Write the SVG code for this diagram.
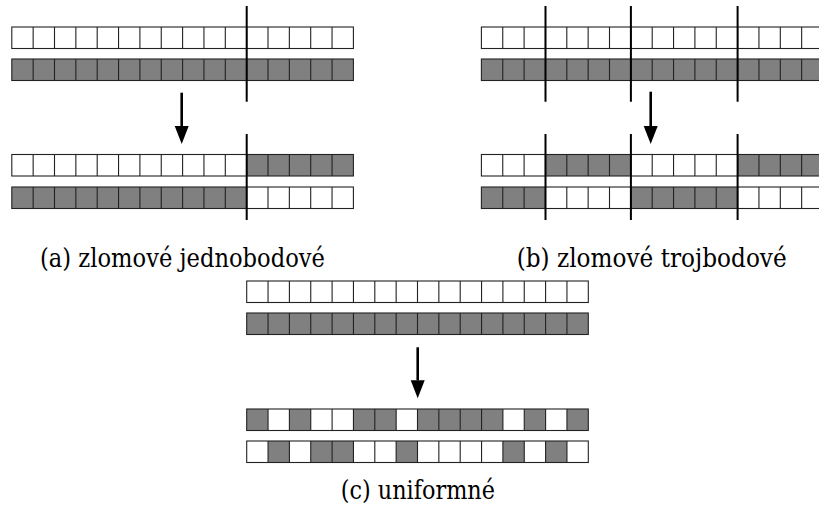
<svg xmlns="http://www.w3.org/2000/svg" xmlns:xlink="http://www.w3.org/1999/xlink" width="819" height="508" viewBox="0 0 819 508">
<style>
.bg{fill:#fff;stroke:none}
.g{fill:#808080;stroke:none}
.div{fill:none;stroke:#222;stroke-width:1.1}
.out{fill:none;stroke:#222;stroke-width:1.1}
.cut{stroke:#000;stroke-width:2;fill:none}
.arr{stroke:#000;stroke-width:2.6;fill:none}
.lbl{font-family:'DejaVu Serif',serif;font-size:25.5px;fill:#000}
</style>
<defs>
<path id="div" class="div" d="M21.35 0V21.5M42.7 0V21.5M64.05 0V21.5M85.4 0V21.5M106.75 0V21.5M128.1 0V21.5M149.45 0V21.5M170.8 0V21.5M192.15 0V21.5M213.5 0V21.5M234.85 0V21.5M256.2 0V21.5M277.55 0V21.5M298.9 0V21.5M320.25 0V21.5"/>
<marker id="ah" markerUnits="userSpaceOnUse" markerWidth="20" markerHeight="16" refX="0" refY="7" orient="auto" viewBox="0 0 20 14">
<path d="M0 0L18 7L0 14z" fill="#000"/>
</marker>
</defs>

<g id="a-parent1" transform="translate(11.8,27)">
<rect class="bg" width="341.6" height="21.5"/>
<use xlink:href="#div" href="#div"/>
<rect class="out" width="341.6" height="21.5"/>
</g>
<g id="a-parent2" transform="translate(11.8,59)">
<rect class="g" width="341.6" height="21.5"/>
<use xlink:href="#div" href="#div"/>
<rect class="out" width="341.6" height="21.5"/>
</g>
<g id="a-child1" transform="translate(11.8,154.5)">
<rect class="bg" width="341.6" height="21.5"/>
<rect class="g" x="234.85" width="106.75" height="21.5"/>
<use xlink:href="#div" href="#div"/>
<rect class="out" width="341.6" height="21.5"/>
</g>
<g id="a-child2" transform="translate(11.8,187)">
<rect class="bg" width="341.6" height="21.5"/>
<rect class="g" width="234.85" height="21.5"/>
<use xlink:href="#div" href="#div"/>
<rect class="out" width="341.6" height="21.5"/>
</g>

<g id="b-parent1" transform="translate(481.4,27)">
<rect class="bg" width="341.6" height="21.5"/>
<use xlink:href="#div" href="#div"/>
<rect class="out" width="341.6" height="21.5"/>
</g>
<g id="b-parent2" transform="translate(481.4,59)">
<rect class="g" width="341.6" height="21.5"/>
<use xlink:href="#div" href="#div"/>
<rect class="out" width="341.6" height="21.5"/>
</g>
<g id="b-child1" transform="translate(481.4,154.5)">
<rect class="bg" width="341.6" height="21.5"/>
<rect class="g" x="64.05" width="85.4" height="21.5"/>
<rect class="g" x="256.2" width="85.4" height="21.5"/>
<use xlink:href="#div" href="#div"/>
<rect class="out" width="341.6" height="21.5"/>
</g>
<g id="b-child2" transform="translate(481.4,187)">
<rect class="bg" width="341.6" height="21.5"/>
<rect class="g" width="64.05" height="21.5"/>
<rect class="g" x="149.45" width="106.75" height="21.5"/>
<use xlink:href="#div" href="#div"/>
<rect class="out" width="341.6" height="21.5"/>
</g>

<g id="c-parent1" transform="translate(246.7,281)">
<rect class="bg" width="341.6" height="21.5"/>
<use xlink:href="#div" href="#div"/>
<rect class="out" width="341.6" height="21.5"/>
</g>
<g id="c-parent2" transform="translate(246.7,313)">
<rect class="g" width="341.6" height="21.5"/>
<use xlink:href="#div" href="#div"/>
<rect class="out" width="341.6" height="21.5"/>
</g>
<g id="c-child1" transform="translate(246.7,409)">
<rect class="bg" width="341.6" height="21.5"/>
<rect class="g" x="0" width="21.35" height="21.5"/>
<rect class="g" x="42.7" width="21.35" height="21.5"/>
<rect class="g" x="106.75" width="42.7" height="21.5"/>
<rect class="g" x="170.8" width="85.4" height="21.5"/>
<rect class="g" x="277.55" width="21.35" height="21.5"/>
<rect class="g" x="320.25" width="21.35" height="21.5"/>
<use xlink:href="#div" href="#div"/>
<rect class="out" width="341.6" height="21.5"/>
</g>
<g id="c-child2" transform="translate(246.7,441)">
<rect class="bg" width="341.6" height="21.5"/>
<rect class="g" x="21.35" width="21.35" height="21.5"/>
<rect class="g" x="64.05" width="42.7" height="21.5"/>
<rect class="g" x="149.45" width="21.35" height="21.5"/>
<rect class="g" x="256.2" width="21.35" height="21.5"/>
<rect class="g" x="298.9" width="21.35" height="21.5"/>
<use xlink:href="#div" href="#div"/>
<rect class="out" width="341.6" height="21.5"/>
</g>

<g id="cut-points">
<path class="cut" d="M246.7 6V101.7M246.7 134V220"/>
<path class="cut" d="M545.5 6V101.7M545.5 134V220M630.9 6V101.7M630.9 134V220M737.6 6V101.7M737.6 134V220"/>
</g>

<g id="connectors">
<line class="arr" x1="181.7" y1="92.7" x2="181.7" y2="126" marker-end="url(#ah)"/>
<line class="arr" x1="650.7" y1="91.7" x2="650.7" y2="126" marker-end="url(#ah)"/>
<line class="arr" x1="417.7" y1="347.3" x2="417.7" y2="380.3" marker-end="url(#ah)"/>
</g>

<g id="labels">
<text class="lbl" x="40" y="267" textLength="285" lengthAdjust="spacingAndGlyphs">(a) zlomové jednobodové</text>
<text class="lbl" x="516.7" y="267" textLength="270" lengthAdjust="spacingAndGlyphs">(b) zlomové trojbodové</text>
<text class="lbl" x="340.7" y="499" textLength="154.3" lengthAdjust="spacingAndGlyphs">(c) uniformné</text>
</g>
</svg>
